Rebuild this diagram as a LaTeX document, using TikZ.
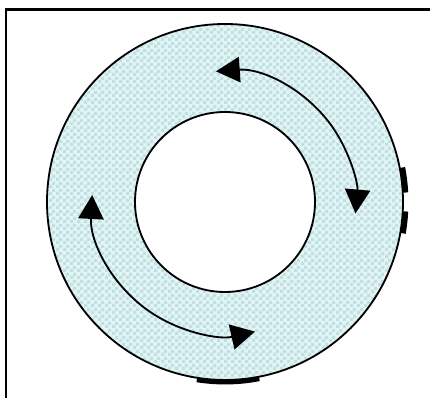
\documentclass[tikz,border=0pt]{standalone}
\usetikzlibrary{arrows.meta, patterns}

% checker dots for the ring
\pgfdeclarepatternformonly{ringdots}{\pgfqpoint{0pt}{0pt}}{\pgfqpoint{5pt}{5pt}}{\pgfqpoint{5pt}{5pt}}{%
  \pgfpathrectangle{\pgfqpoint{0pt}{0pt}}{\pgfqpoint{2.5pt}{2.5pt}}%
  \pgfpathrectangle{\pgfqpoint{2.5pt}{2.5pt}}{\pgfqpoint{2.5pt}{2.5pt}}%
  \pgfusepath{fill}}

\definecolor{ringbase}{RGB}{228,243,244}
\definecolor{ringdot}{RGB}{190,225,227}

\begin{document}
\begin{tikzpicture}[x=0.025cm, y=0.025cm, >={Triangle[length=17pt, width=18pt]}]

    % Define styles
    \tikzset{
        frame/.style={black, line width=1.5pt},
        rim/.style={black, line width=1.3pt},
        flow/.style={<->, black, line width=1.3pt},
        blot/.style={black, line width=3.5pt},
        ringfill/.style={fill=ringbase, even odd rule},
        ringpattern/.style={pattern=ringdots, pattern color=ringdot, even odd rule}
    }

    % 1. Canvas and centre
    \useasboundingbox (0,0) rectangle (430,398);
    \coordinate (C) at (225,196);
    \def\rout{178}
    \def\rin{90}
    \def\rflow{131}

    % 2. Frame (left and top edges only)
    \draw[frame] (6,0) |- (430,388.5);

    % 3. Ring
    \fill[ringfill] (C) circle[radius=\rout] (C) circle[radius=\rin];
    \fill[ringpattern] (C) circle[radius=\rout] (C) circle[radius=\rin];
    \draw[rim] (C) circle[radius=\rout];
    \draw[rim] (C) circle[radius=\rin];

    % 4. Dark marks on the rim
    \draw[blot] ([shift={(3:181)}]C) arc[start angle=3, end angle=11, radius=181];
    \draw[blot] ([shift={(-10:181)}]C) arc[start angle=-10, end angle=-3, radius=181];
    \draw[blot] ([shift={(261:180)}]C) arc[start angle=261, end angle=281, radius=180];

    % 5. Double arrows
    \draw[flow] ([shift={(94:\rflow)}]C) arc[start angle=94, end angle=-5, radius=\rflow];
    \draw[flow] ([shift={(177:133)}]C) arc[start angle=177, end angle=283, radius=133];

\end{tikzpicture}
\end{document}
